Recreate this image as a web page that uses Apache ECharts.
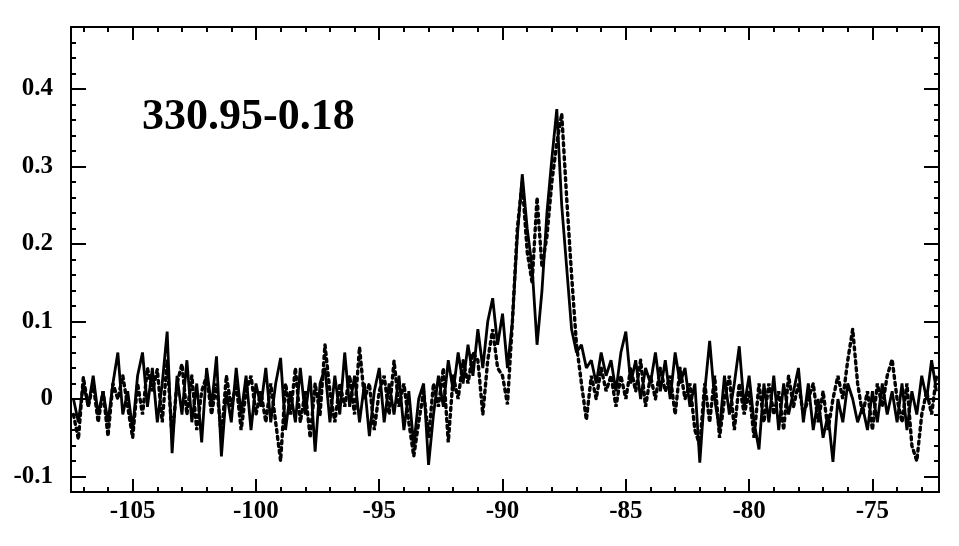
<!DOCTYPE html>
<html>
<head>
<meta charset="utf-8">
<script src="https://cdn.jsdelivr.net/npm/echarts@6/dist/echarts.min.js"></script>
<style>html,body{margin:0;padding:0;background:#fff;}#c{width:959px;height:546px;}</style>
</head>
<body>
<div id="c"></div>
<script>
// channel grid (velocity, km/s)
const velStart = -107.4;
const velStep = 0.2;

// solid spectrum
const solidValues = [
  0.00,-0.03,0.02,-0.01,0.03,-0.02,0.01,-0.03,0.02,0.06,
  -0.02,0.01,-0.04,0.03,0.06,-0.01,0.04,-0.03,0.02,0.087,
  -0.07,0.03,-0.02,0.05,-0.03,0.02,-0.056,0.04,-0.01,0.055,
  -0.074,0.01,-0.03,0.04,-0.02,0.03,-0.04,0.02,-0.01,0.04,
  -0.03,0.02,0.053,-0.04,0.01,-0.03,0.04,-0.02,0.03,-0.068,
  0.02,0.04,-0.03,0.03,-0.02,0.06,-0.01,0.03,-0.03,0.02,
  -0.048,0.01,0.04,-0.03,0.02,-0.02,0.03,-0.04,0.01,-0.06,
  0.00,0.02,-0.085,-0.02,0.03,-0.01,0.05,0.01,0.06,0.02,
  0.07,0.03,0.09,0.04,0.10,0.13,0.07,0.11,0.04,0.10,
  0.21,0.29,0.22,0.17,0.07,0.14,0.24,0.31,0.374,0.25,
  0.17,0.09,0.06,0.07,0.04,0.05,0.02,0.06,0.03,0.05,
  0.01,0.06,0.087,0.02,0.05,0.00,0.04,0.02,0.06,0.01,
  0.05,0.00,0.06,0.02,0.04,-0.01,0.02,-0.082,0.01,0.075,
  0.00,-0.04,0.03,-0.02,0.02,0.068,-0.01,0.03,-0.03,-0.065,
  0.02,-0.03,0.03,-0.04,0.02,-0.02,0.01,0.04,-0.03,0.02,
  -0.04,0.00,-0.05,-0.02,-0.081,0.00,-0.03,0.02,0.00,-0.03,
  -0.01,-0.04,0.01,-0.03,0.02,-0.02,0.01,-0.03,0.02,-0.04,
  0.01,-0.02,0.03,0.00,0.05,0.01
];

// dotted spectrum
const dottedValues = [
  -0.02,-0.052,0.028,-0.01,0.02,-0.03,0.01,-0.048,0.02,0.00,
  0.03,-0.01,-0.05,0.02,-0.02,0.04,0.01,0.038,-0.03,0.05,
  -0.05,0.02,0.045,-0.02,0.03,-0.04,0.01,0.03,-0.02,0.02,
  -0.05,0.03,-0.01,0.02,-0.04,0.01,0.03,-0.02,0.01,-0.03,
  0.02,-0.03,-0.08,0.02,-0.02,0.04,-0.03,0.01,-0.05,0.02,
  -0.02,0.07,0.01,-0.03,0.02,-0.01,0.03,-0.02,0.067,0.00,
  0.02,-0.04,0.01,0.03,-0.02,0.049,-0.01,0.02,-0.03,-0.074,
  -0.03,0.01,-0.05,0.02,-0.01,0.04,-0.056,0.03,0.00,0.05,
  0.02,0.06,0.05,-0.02,0.05,0.09,0.04,0.03,-0.007,0.10,
  0.22,0.28,0.19,0.15,0.26,0.17,0.21,0.28,0.33,0.368,
  0.26,0.16,0.07,0.02,-0.027,0.03,0.00,0.04,0.01,0.03,
  -0.01,0.03,0.00,0.04,0.01,0.05,-0.01,0.03,0.00,0.04,
  0.01,0.03,-0.02,0.04,0.00,0.02,-0.04,-0.06,0.02,-0.03,
  0.03,-0.05,0.00,0.03,-0.04,0.02,-0.02,0.01,-0.05,0.02,
  -0.03,0.02,-0.02,0.01,-0.04,0.03,-0.01,0.02,-0.02,0.00,
  0.02,-0.03,0.01,-0.04,0.00,0.03,0.00,0.05,0.09,0.02,
  -0.02,0.01,-0.04,0.02,-0.01,0.03,0.051,0.00,-0.03,0.02,
  -0.06,-0.08,-0.02,0.01,-0.02,0.03
];

const xTickLabels = [-105, -100, -95, -90, -85, -80, -75];
const yTickLabels = [-0.1, 0, 0.1, 0.2, 0.3, 0.4];
const sourceName = '330.95-0.18';

const X_MIN = -107.5, X_MAX = -72.3, Y_MIN = -0.12, Y_MAX = 0.48;

const toPairs = vals => vals.map((v, i) => [+(velStart + i * velStep).toFixed(2), v]);

const xMinor = []; for (let v = -107; v <= -73; v += 1) xMinor.push(v);
const yMinor = []; for (let k = -5; k <= 23; k++) yMinor.push(+(k * 0.02).toFixed(2));

const FONT = '"Liberation Serif", "Times New Roman", serif';
const black = '#000';

function xAx(pos, major, showLabel) {
  return {
    type: 'value', min: X_MIN, max: X_MAX, position: pos,
    axisLine: { show: true, onZero: false, lineStyle: { color: black, width: 2 } },
    axisTick: { show: true, inside: true, length: major ? 13 : 5, customValues: major ? xTickLabels : xMinor, lineStyle: { color: black, width: 2 } },
    axisLabel: { show: showLabel, customValues: xTickLabels, margin: 7, color: black, fontFamily: FONT, fontSize: 25, fontWeight: 'bold' },
    splitLine: { show: false }
  };
}
function yAx(pos, major, showLabel) {
  return {
    type: 'value', min: Y_MIN, max: Y_MAX, position: pos,
    axisLine: { show: true, onZero: false, lineStyle: { color: black, width: 2 } },
    axisTick: { show: true, inside: true, length: major ? 15 : 5, customValues: major ? yTickLabels : yMinor, lineStyle: { color: black, width: 2 } },
    axisLabel: { show: showLabel, customValues: yTickLabels, margin: 18, color: black, fontFamily: FONT, fontSize: 25, fontWeight: 'bold',
      formatter: v => String(Math.round(v * 10) / 10) },
    splitLine: { show: false }
  };
}

const chart = echarts.init(document.getElementById('c'), null, { renderer: 'canvas' });
chart.setOption({
  animation: false,
  backgroundColor: '#fff',
  grid: { left: 71, right: 20, top: 27, bottom: 54 },
  xAxis: [xAx('bottom', true, true), xAx('bottom', false, false), xAx('top', true, false), xAx('top', false, false)],
  yAxis: [yAx('left', true, true), yAx('left', false, false), yAx('right', true, false), yAx('right', false, false)],
  graphic: [{
    type: 'text', left: 142, top: 96,
    style: { text: sourceName, font: 'bold 44px ' + FONT, fill: black }
  }],
  series: [
    { type: 'line', xAxisIndex: 0, yAxisIndex: 0, data: toPairs(dottedValues), showSymbol: false,
      lineStyle: { color: black, width: 3.4, type: [3, 4], cap: 'round' } },
    { type: 'line', xAxisIndex: 0, yAxisIndex: 0, data: toPairs(solidValues), showSymbol: false,
      lineStyle: { color: black, width: 2.8 } }
  ]
});
</script>
</body>
</html>
